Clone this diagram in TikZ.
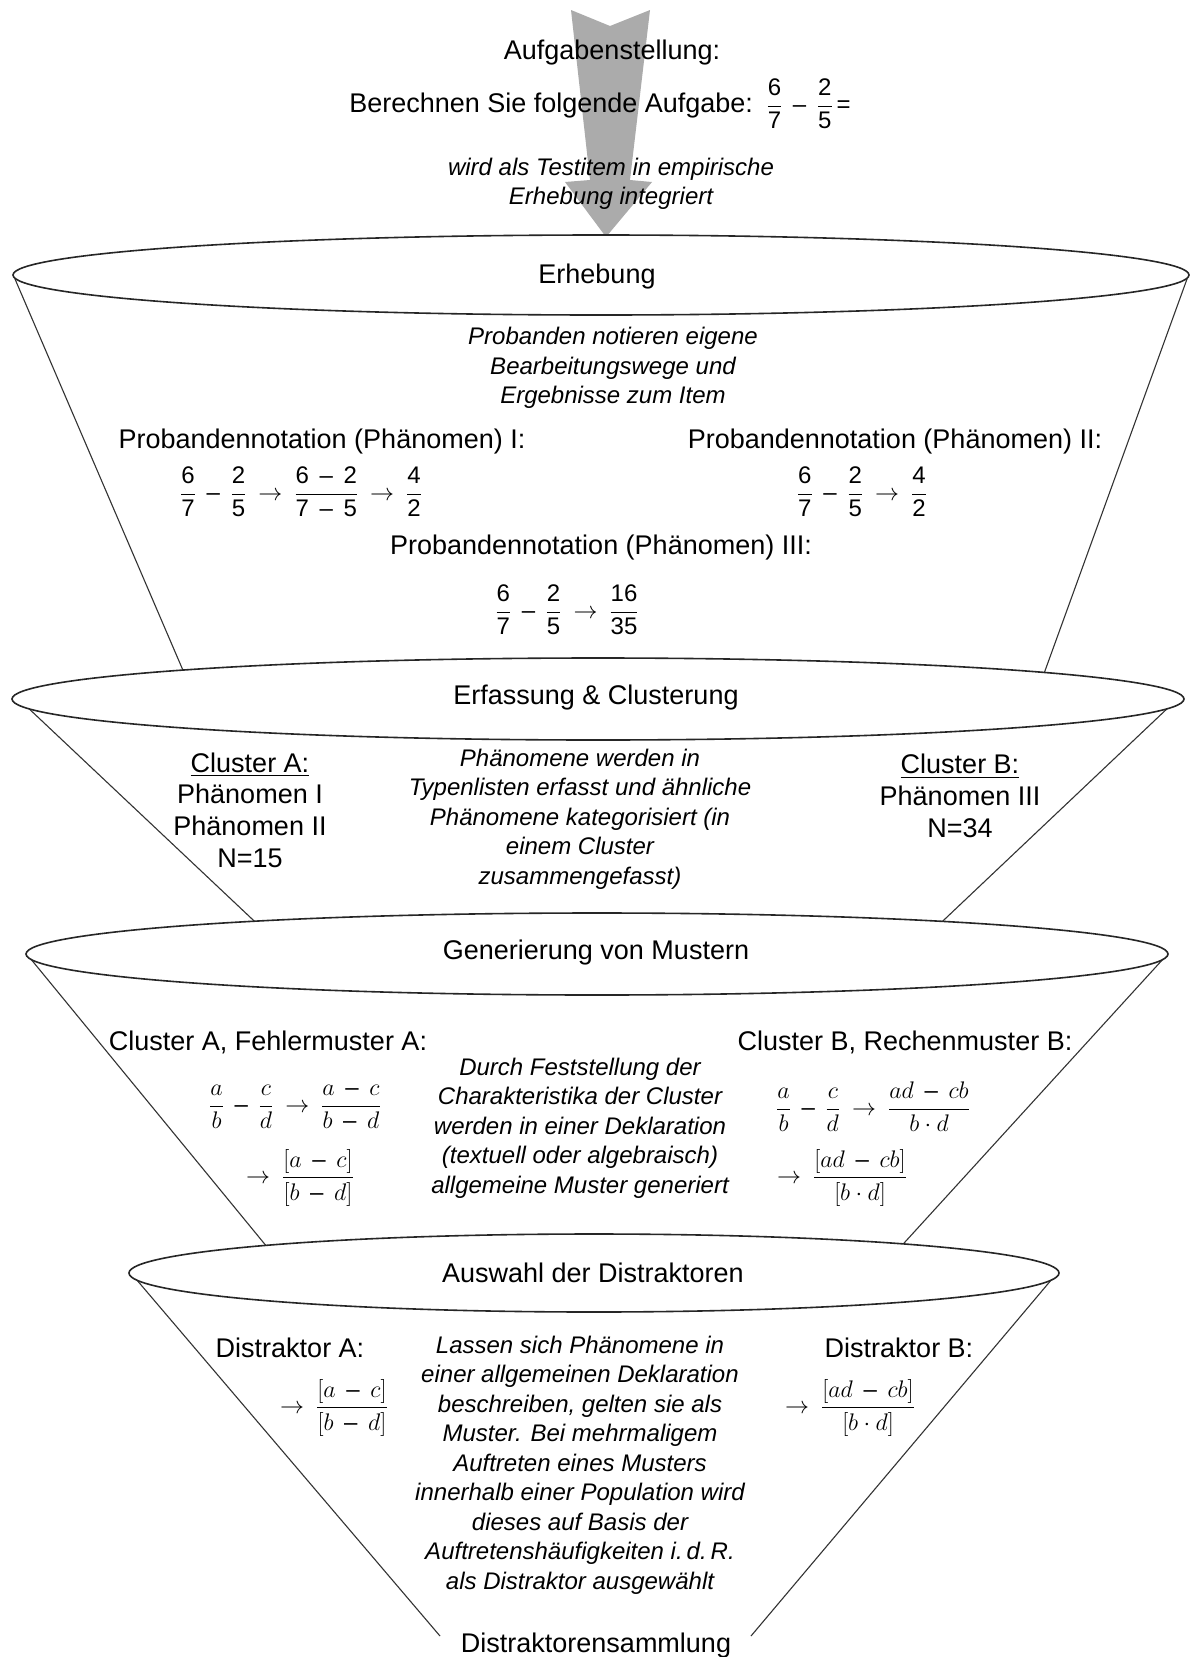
\documentclass[tikz,border=0pt]{standalone}
\usepackage{fix-cm}
\usepackage{amsmath}
\usepackage{fontspec}
\setmainfont{Liberation Sans}
% digits and signs in the formulas are set in the text face
\newcommand{\digs}[1]{\text{#1}}
\newcommand{\mns}{\mathbin{\text{–}}}
\newcommand{\tms}{\mkern-4mu\cdot\mkern-4mu}
% wider gaps round the arrows and minus signs of the formulas
\newcommand{\fgaps}{\thickmuskip=9mu\relax\medmuskip=8mu\relax}

\begin{document}
\begin{tikzpicture}[x=1pt,y=-1pt,
  bowl/.style={draw=black!85, line width=1.6pt, fill=white},
  side/.style={draw=black!80, line width=1.1pt},
  into/.style={side, shorten >=-14pt},
  head/.style={font=\fontsize{27}{32}\selectfont, inner sep=0pt},
  txt/.style={font=\fontsize{27}{31.7}\selectfont, align=center, inner sep=0pt},
  note/.style={font=\fontsize{24}{29.5}\selectfont\itshape, align=center, inner sep=0pt},
  frm/.style={font=\fontsize{24}{29}\selectfont, inner sep=0pt}]

\useasboundingbox[fill=white] (0,0) rectangle (1190,1657);

% big grey arrow feeding the funnel
\fill[black!33] (571,10) -- (610,26) -- (650,10) -- (630,180) -- (652,182)
  -- (606,237) -- (565,182) -- (590,180) -- cycle;

% funnel outline points
\coordinate (a1) at (15,279);    \coordinate (b1) at (1187,279);
\coordinate (a1e) at (182,668);  \coordinate (b1e) at (1046,668);
\coordinate (a2) at (24,704);    \coordinate (b2) at (1171,705);
\coordinate (a2e) at (251,918);  \coordinate (b2e) at (946,918);
\coordinate (a3) at (30,958);    \coordinate (b3) at (1164,958);
\coordinate (a3e) at (263,1242); \coordinate (b3e) at (905,1242);
\coordinate (a4) at (136,1279);  \coordinate (b4) at (1052,1279);
\coordinate (a4e) at (440,1636); \coordinate (b4e) at (751,1636);

% funnel sides
\draw[into] (a1) -- (a1e);  \draw[into] (b1) -- (b1e);
\draw[into] (a2) -- (a2e);  \draw[into] (b2) -- (b2e);
\draw[into] (a3) -- (a3e);  \draw[into] (b3) -- (b3e);
\draw[side] (a4) -- (a4e);  \draw[side] (b4) -- (b4e);

% funnel rims
\draw[bowl] (601,275) ellipse [x radius=588, y radius=40];
\draw[bowl] (598,699) ellipse [x radius=586, y radius=41];
\draw[bowl] (597,954) ellipse [x radius=571, y radius=41];
\draw[bowl] (594,1273) ellipse [x radius=465, y radius=39];

% task
\node[head] (aufg) at (612,53) {Aufgabenstellung:};
\node[head] (task) at (600,104) {Berechnen Sie folgende Aufgabe:\enspace
  {\fontsize{24}{29}\selectfont$\fgaps\dfrac{\digs{6}}{\digs{7}}\mns\dfrac{\digs{2}}{\digs{5}}\digs{\,=}$}};
\node[note] (item) at (611,184) {wird als Testitem in empirische\\Erhebung integriert};

% stage 1
\node[head] (erh) at (597,277) {Erhebung};
\node[note] (erhn) at (613,368) {Probanden notieren eigene\\Bearbeitungswege und\\Ergebnisse zum Item};
\node[head] (p1) at (322,442) {Probandennotation (Phänomen) I:};
\node[head] (p2) at (895,442) {Probandennotation (Phänomen) II:};
\node[frm] (p1f) at (301,492) {$\fgaps\dfrac{\digs{6}}{\digs{7}}\mns\dfrac{\digs{2}}{\digs{5}}\to\dfrac{\digs{6}\mns\digs{2}}{\digs{7}\mns\digs{5}}\to\dfrac{\digs{4}}{\digs{2}}$};
\node[frm] (p2f) at (862,492) {$\fgaps\dfrac{\digs{6}}{\digs{7}}\mns\dfrac{\digs{2}}{\digs{5}}\to\dfrac{\digs{4}}{\digs{2}}$};
\node[head] (p3) at (601,548) {Probandennotation (Phänomen) III:};
\node[frm] (p3f) at (567,610) {$\fgaps\dfrac{\digs{6}}{\digs{7}}\mns\dfrac{\digs{2}}{\digs{5}}\to\dfrac{\digs{16}}{\digs{35}}$};

% stage 2
\node[head] (erf) at (596,698) {Erfassung \& Clusterung};
\node[txt] (ca) at (250,810) {\underline{Cluster A:}\\Phänomen I\\Phänomen II\\N=15};
\node[txt] (cb) at (960,796) {\underline{Cluster B:}\\Phänomen III\\N=34};
\node[note] (erfn) at (580,819) {Phänomene werden in\\Typenlisten erfasst und ähnliche\\Phänomene kategorisiert (in\\einem Cluster\\zusammengefasst)};

% stage 3
\node[head] (gen) at (596,953) {Generierung von Mustern};
\node[head] (ma) at (268,1042) {Cluster A, Fehlermuster A:};
\node[head] (mb) at (905,1042) {Cluster B, Rechenmuster B:};
\node[note] (genn) at (580,1128) {Durch Feststellung der\\Charakteristika der Cluster\\werden in einer Deklaration\\(textuell oder algebraisch)\\allgemeine Muster generiert};
\node[frm] (ma1) at (295,1107) {$\fgaps\dfrac{a}{b}\mns\dfrac{c}{d}\to\dfrac{a\mns c}{b\mns d}$};
\node[frm] (ma2) at (300,1178) {$\fgaps\to\dfrac{[a\mns c]}{[b\mns d]}$};
\node[frm] (mb1) at (873,1107) {$\fgaps\dfrac{a}{b}\mns\dfrac{c}{d}\to\dfrac{ad\mns cb}{b\tms d}$};
\node[frm] (mb2) at (842,1178) {$\fgaps\to\dfrac{[ad\mns cb]}{[b\tms d]}$};

% stage 4
\node[head] (aus) at (593,1273) {Auswahl der Distraktoren};
\node[head] (da) at (290,1348) {Distraktor A:};
\node[head] (db) at (899,1348) {Distraktor B:};
\node[frm] (daf) at (334,1408) {$\fgaps\to\dfrac{[a\mns c]}{[b\mns d]}$};
\node[frm] (dbf) at (850,1408) {$\fgaps\to\dfrac{[ad\mns cb]}{[b\tms d]}$};
\node[note] (ausn) at (580,1465) {Lassen sich Phänomene in\\einer allgemeinen Deklaration\\beschreiben, gelten sie als\\Muster. Bei mehrmaligem\\Auftreten eines Musters\\innerhalb einer Population wird\\dieses auf Basis der\\Auftretenshäufigkeiten i.\,d.\,R.\\als Distraktor ausgewählt};
\node[head] (coll) at (596,1645) {Distraktorensammlung};

\end{tikzpicture}
\end{document}
